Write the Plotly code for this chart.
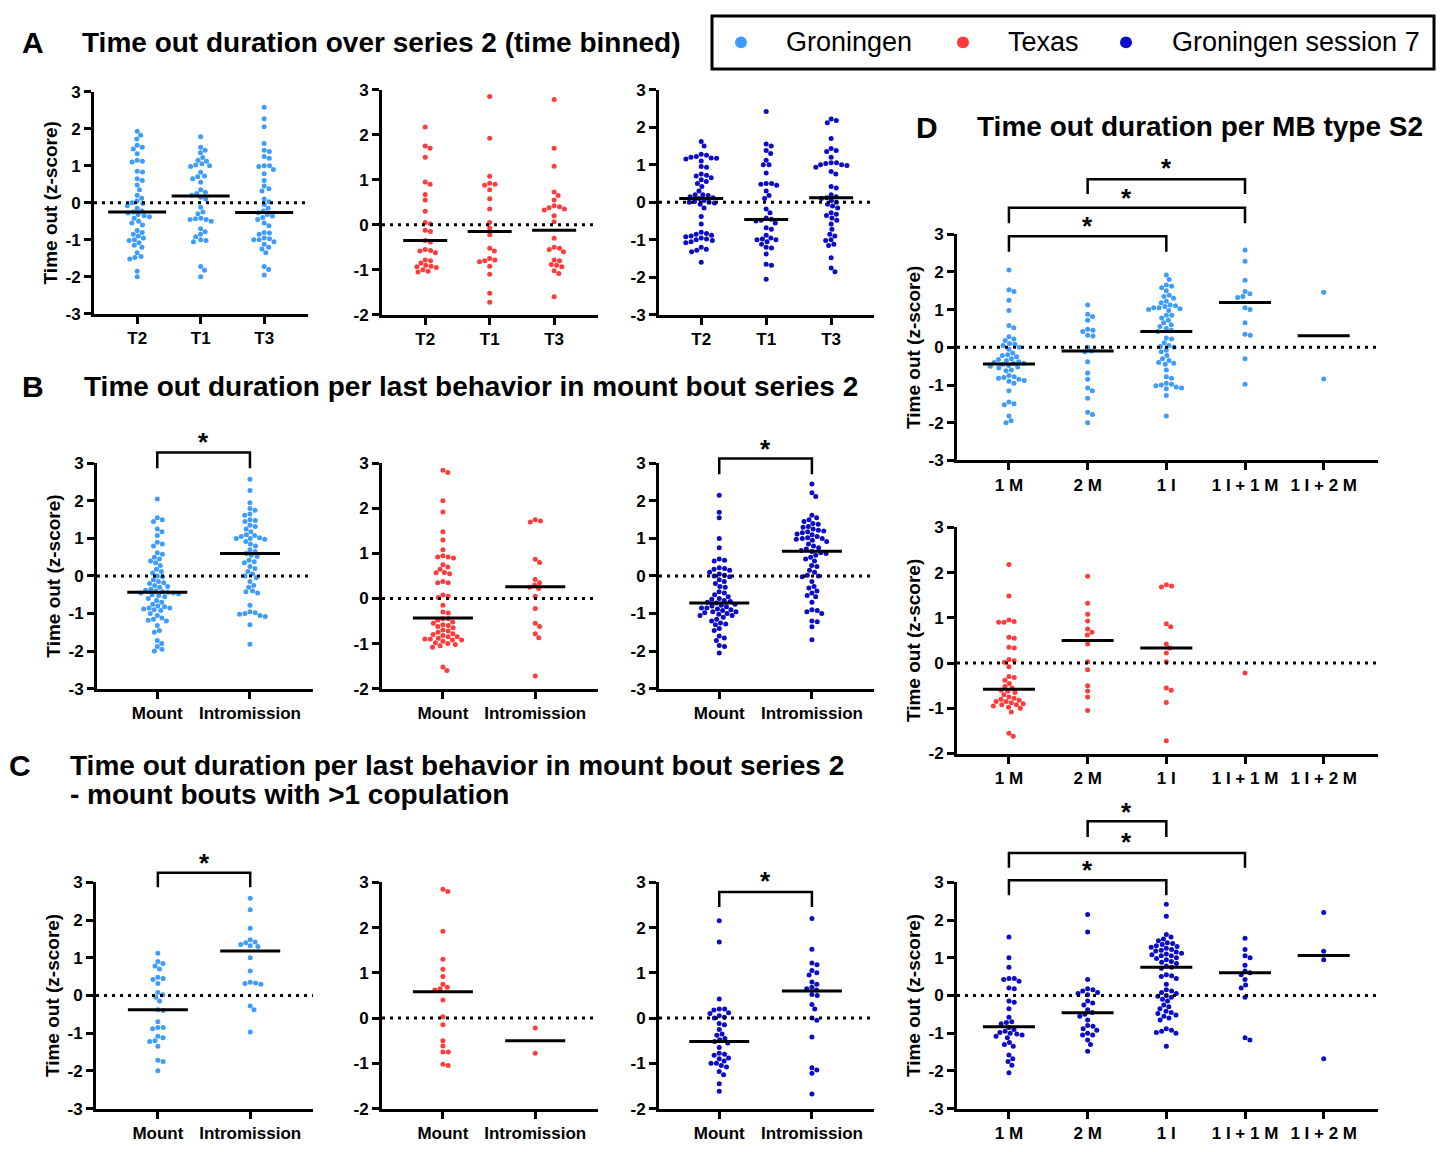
import numpy as np
import plotly.graph_objects as go

W, H = 1441, 1152
FONT = "Liberation Sans, Arial, sans-serif"
C_GRON = "#3f9cff"
C_TEX = "#ff3b3b"
C_S7 = "#0c0cc6"

# ---------------- category / tick labels ----------------
time_bins = ["T2", "T1", "T3"]
last_behavior = ["Mount", "Intromission"]
mb_types = ["1 M", "2 M", "1 I", "1 I + 1 M", "1 I + 2 M"]
yticks_6 = [-3, -2, -1, 0, 1, 2, 3]
yticks_5 = [-2, -1, 0, 1, 2, 3]
y_title = "Time out (z-score)"

# ---------------- A: time binned ----------------
A_gron_T2 = [1.93, 1.82, 1.72, 1.55, 1.5, 1.45, 1.32, 1.15, 1.12, 1.1, 0.85, 0.83, 0.65, 0.6, 0.48, 0.35,
             0.2, 0.12, 0.05, 0.0, -0.02, -0.08, -0.15, -0.22, -0.25, -0.28, -0.32, -0.35, -0.38, -0.42,
             -0.5, -0.55, -0.6, -0.75, -0.8, -0.85, -0.9, -0.95, -1.0, -1.02, -1.08, -1.15, -1.2, -1.35,
             -1.45, -1.48, -1.52, -1.85, -2.0]
A_gron_T1 = [1.78, 1.5, 1.42, 1.35, 1.22, 1.15, 1.12, 1.05, 1.02, 1.0, 0.98, 0.82, 0.72, 0.7, 0.65, 0.55,
             0.35, 0.28, 0.25, 0.2, 0.15, 0.1, -0.12, -0.25, -0.3, -0.42, -0.43, -0.45, -0.45, -0.5, -0.7,
             -0.78, -0.85, -0.92, -1.0, -1.02, -1.05, -1.72, -1.82, -2.0]
A_gron_T3 = [2.58, 2.27, 2.05, 1.6, 1.42, 1.38, 1.25, 1.2, 1.0, 1.0, 0.98, 0.9, 0.78, 0.6, 0.45, 0.38, 0.32,
             0.1, 0.03, -0.05, -0.15, -0.22, -0.27, -0.32, -0.36, -0.4, -0.45, -0.55, -0.62, -0.8, -0.82,
             -0.85, -0.95, -0.97, -1.0, -1.0, -1.05, -1.12, -1.2, -1.25, -1.35, -1.72, -1.8, -1.95]
A_gron_median = [-0.25, 0.18, -0.26]

A_tex_T2 = [2.17, 1.75, 1.7, 1.5, 0.95, 0.9, 0.67, 0.55, 0.3, 0.05, 0.02, -0.12, -0.15, -0.35, -0.38, -0.55,
            -0.57, -0.58, -0.62, -0.78, -0.8, -0.85, -0.9, -0.92, -0.93, -0.95, -1.0, -1.03, -1.05]
A_tex_T1 = [2.85, 1.92, 1.08, 0.92, 0.9, 0.88, 0.78, 0.58, 0.35, 0.05, -0.07, -0.22, -0.52, -0.58, -0.75,
            -0.78, -0.8, -0.82, -0.92, -1.1, -1.52, -1.72]
A_tex_T3 = [2.78, 1.7, 1.3, 0.73, 0.65, 0.55, 0.42, 0.4, 0.38, 0.35, 0.33, 0.2, 0.07, -0.3, -0.5, -0.52,
            -0.55, -0.6, -0.78, -0.8, -0.88, -0.9, -0.93, -1.02, -1.08, -1.6]
A_tex_median = [-0.35, -0.15, -0.12]

A_s7_T2 = [1.62, 1.5, 1.28, 1.25, 1.22, 1.2, 1.18, 1.17, 1.15, 1.1, 0.93, 0.95, 0.75, 0.72, 0.7, 0.65, 0.6,
           0.55, 0.5, 0.42, 0.3, 0.2, 0.2, 0.18, 0.15, 0.12, 0.1, 0.05, 0.02, 0.0, 0.0, -0.02, -0.05, -0.15,
           -0.38, -0.58, -0.8, -0.83, -0.85, -0.88, -0.9, -0.92, -0.95, -0.98, -1.0, -1.02, -1.05, -1.08,
           -1.2, -1.25, -1.28, -1.32, -1.6]
A_s7_T1 = [2.42, 1.55, 1.5, 1.38, 1.3, 1.12, 1.0, 1.0, 0.78, 0.5, 0.48, 0.45, 0.5, 0.3, 0.18, 0.1, -0.18,
           -0.28, -0.42, -0.45, -0.48, -0.5, -0.55, -0.68, -0.72, -0.88, -0.95, -0.98, -1.0, -1.0, -1.05,
           -1.12, -1.2, -1.22, -1.38, -1.65, -1.68, -2.05]
A_s7_T3 = [2.22, 2.18, 2.12, 1.7, 1.43, 1.38, 1.35, 1.2, 1.05, 1.05, 1.03, 1.0, 1.0, 0.98, 0.93, 0.82, 0.75,
           0.42, 0.38, 0.2, 0.15, 0.12, 0.1, 0.05, 0.0, -0.05, -0.1, -0.15, -0.28, -0.32, -0.35, -0.42,
           -0.48, -0.58, -0.72, -0.85, -0.9, -1.0, -1.02, -1.12, -1.15, -1.48, -1.75, -1.85]
A_s7_median = [0.1, -0.46, 0.12]

# ---------------- B: last behavior ----------------
B_gron_mount = [2.05, 1.55, 1.5, 1.45, 1.25, 1.18, 1.08, 0.9, 0.85, 0.8, 0.62, 0.58, 0.5, 0.45, 0.4, 0.35,
                0.28, 0.18, 0.12, 0.08, 0.0, -0.02, -0.1, -0.15, -0.18, -0.2, -0.25, -0.28, -0.3, -0.35,
                -0.38, -0.4, -0.42, -0.43, -0.45, -0.45, -0.48, -0.5, -0.52, -0.55, -0.6, -0.65, -0.7,
                -0.75, -0.8, -0.82, -0.85, -0.85, -0.88, -0.9, -0.92, -1.0, -1.05, -1.12, -1.15, -1.18,
                -1.2, -1.32, -1.45, -1.5, -1.72, -1.8, -1.88, -1.95, -2.0]
B_gron_intro = [2.58, 2.28, 1.95, 1.8, 1.75, 1.65, 1.62, 1.5, 1.48, 1.45, 1.35, 1.32, 1.25, 1.18, 1.1, 1.08,
                1.05, 1.02, 1.0, 1.0, 0.98, 0.92, 0.85, 0.8, 0.7, 0.65, 0.6, 0.55, 0.52, 0.42, 0.38, 0.35,
                0.25, 0.2, 0.12, 0.05, 0.0, -0.05, -0.15, -0.25, -0.3, -0.4, -0.42, -0.45, -0.78, -0.95,
                -0.98, -1.0, -1.02, -1.05, -1.08, -1.3, -1.82]
B_gron_median = [-0.43, 0.6]

B_tex_mount = [2.85, 2.8, 2.17, 1.92, 1.48, 1.3, 1.08, 0.95, 0.92, 0.9, 0.92, 0.75, 0.7, 0.65, 0.58, 0.57,
               0.55, 0.38, 0.35, 0.35, 0.08, 0.05, 0.02, -0.15, -0.3, -0.32, -0.45, -0.45, -0.48, -0.52,
               -0.55, -0.58, -0.6, -0.62, -0.65, -0.7, -0.72, -0.75, -0.78, -0.8, -0.82, -0.85, -0.85,
               -0.88, -0.9, -0.9, -0.92, -0.92, -0.95, -0.98, -1.0, -1.02, -1.05, -1.08, -1.52, -1.6]
B_tex_intro = [1.75, 1.72, 1.7, 0.87, 0.8, 0.42, 0.35, 0.3, 0.25, 0.22, 0.05, -0.22, -0.55, -0.62, -0.78,
               -0.87, -1.72]
B_tex_median = [-0.43, 0.26]

B_s7_mount = [2.15, 1.7, 1.55, 1.0, 0.75, 0.45, 0.42, 0.4, 0.22, 0.2, 0.18, 0.15, 0.1, 0.05, 0.02, 0.0,
              -0.02, -0.1, -0.15, -0.2, -0.28, -0.3, -0.42, -0.45, -0.5, -0.55, -0.6, -0.62, -0.65, -0.68,
              -0.7, -0.72, -0.75, -0.78, -0.8, -0.82, -0.85, -0.85, -0.88, -0.9, -0.92, -0.95, -0.95, -0.98,
              -1.0, -1.02, -1.05, -1.05, -1.1, -1.15, -1.2, -1.25, -1.28, -1.3, -1.4, -1.45, -1.6, -1.65,
              -1.72, -1.85, -1.88, -2.05]
B_s7_intro = [2.45, 2.22, 2.12, 1.62, 1.55, 1.5, 1.45, 1.4, 1.38, 1.32, 1.3, 1.25, 1.22, 1.2, 1.18, 1.15,
              1.12, 1.1, 1.05, 1.02, 1.0, 1.0, 0.98, 0.95, 0.92, 0.85, 0.8, 0.75, 0.72, 0.68, 0.65, 0.62,
              0.6, 0.55, 0.5, 0.45, 0.4, 0.28, 0.25, 0.15, 0.1, 0.02, 0.0, -0.02, -0.15, -0.28, -0.32, -0.4,
              -0.45, -0.52, -0.55, -0.7, -0.9, -0.92, -0.95, -1.0, -1.2, -1.22, -1.35, -1.7]
B_s7_median = [-0.72, 0.66]

# ---------------- C: mount bouts with >1 copulation ----------------
C_gron_mount = [1.12, 0.9, 0.85, 0.78, 0.7, 0.48, 0.45, 0.42, 0.32, 0.08, 0.02, -0.05, -0.15, -0.38, -0.4,
                -0.7, -0.85, -0.85, -0.88, -1.08, -1.12, -1.2, -1.22, -1.35, -1.72, -1.75, -2.0]
C_gron_intro = [2.58, 2.27, 1.78, 1.48, 1.42, 1.4, 1.35, 1.32, 1.3, 1.0, 0.65, 0.35, 0.33, 0.32, 0.3,
                -0.28, -0.38, -0.97]
C_gron_median = [-0.38, 1.18]

C_tex_mount = [2.85, 2.8, 1.92, 1.3, 1.08, 0.92, 0.75, 0.68, 0.65, 0.62, 0.4, 0.03, -0.15, -0.5, -0.62,
               -0.75, -0.75, -1.02, -1.05]
C_tex_intro = [-0.22, -0.78]
C_tex_median = [0.58, -0.5]

C_s7_mount = [2.15, 1.68, 0.42, 0.2, 0.18, 0.2, 0.12, 0.1, 0.05, 0.02, 0.0, -0.12, -0.15, -0.25, -0.35,
              -0.38, -0.45, -0.48, -0.52, -0.55, -0.65, -0.78, -0.8, -0.82, -0.88, -0.9, -0.95, -1.0, -1.0,
              -1.05, -1.08, -1.18, -1.25, -1.45, -1.62]
C_s7_intro = [2.2, 1.52, 1.22, 1.18, 1.05, 1.0, 0.95, 0.8, 0.75, 0.68, 0.65, 0.62, 0.52, 0.5, 0.3, 0.2,
              0.0, -0.05, -0.42, -1.1, -1.15, -1.22, -1.68]
C_s7_median = [-0.52, 0.6]

# ---------------- D: per MB type ----------------
D_gron_1M = [2.05, 1.53, 1.48, 1.25, 0.98, 0.58, 0.52, 0.28, 0.22, 0.18, 0.1, 0.08, 0.05, 0.0, -0.05, -0.15,
             -0.2, -0.22, -0.25, -0.3, -0.32, -0.35, -0.38, -0.4, -0.42, -0.43, -0.45, -0.48, -0.5, -0.52,
             -0.55, -0.6, -0.62, -0.75, -0.78, -0.8, -0.82, -0.85, -0.88, -0.9, -0.95, -1.15, -1.45, -1.5,
             -1.52, -1.82, -1.95, -2.0]
D_gron_2M = [1.12, 0.88, 0.82, 0.72, 0.48, 0.45, 0.42, 0.32, 0.3, 0.0, -0.1, -0.12, -0.38, -0.68, -0.85,
             -1.08, -1.15, -1.35, -1.72, -1.78, -2.0]
D_gron_1I = [1.92, 1.8, 1.65, 1.62, 1.58, 1.5, 1.38, 1.35, 1.3, 1.22, 1.18, 1.12, 1.1, 1.08, 1.05, 1.05,
             1.02, 1.0, 0.98, 0.85, 0.85, 0.78, 0.72, 0.65, 0.6, 0.55, 0.5, 0.45, 0.42, 0.25, 0.22, 0.12,
             0.05, 0.02, 0.0, -0.08, -0.12, -0.22, -0.3, -0.35, -0.4, -0.42, -0.45, -0.6, -0.78, -0.82,
             -0.95, -0.98, -1.0, -1.02, -1.05, -1.08, -1.1, -1.28, -1.82]
D_gron_1I1M = [2.58, 2.28, 1.78, 1.48, 1.42, 1.35, 1.32, 1.05, 1.0, 0.65, 0.35, 0.32, -0.3, -0.98]
D_gron_1I2M = [1.46, -0.84]
D_gron_median = [-0.44, -0.1, 0.42, 1.19, 0.31]

D_tex_1M = [2.18, 1.48, 0.95, 0.92, 0.9, 0.9, 0.57, 0.55, 0.35, 0.33, 0.08, 0.05, 0.02, -0.08, -0.3, -0.32,
            -0.38, -0.45, -0.52, -0.55, -0.6, -0.62, -0.65, -0.7, -0.75, -0.78, -0.8, -0.82, -0.85, -0.85,
            -0.88, -0.9, -0.92, -0.92, -0.95, -0.98, -1.0, -1.08, -1.55, -1.62]
D_tex_2M = [1.92, 1.32, 1.08, 0.93, 0.75, 0.68, 0.62, 0.42, 0.03, -0.15, -0.5, -0.62, -0.75, -1.05]
D_tex_1I = [1.73, 1.7, 1.68, 0.87, 0.8, 0.42, 0.33, 0.22, 0.03, -0.55, -0.6, -0.87, -1.72]
D_tex_1I1M = [-0.22]
D_tex_1I2M = []
D_tex_median = [-0.58, 0.5, 0.33, None, None]

D_s7_1M = [1.55, 1.0, 0.75, 0.45, 0.45, 0.42, 0.38, 0.2, 0.18, -0.15, -0.18, -0.35, -0.58, -0.7, -0.72,
           -0.75, -0.85, -0.9, -0.95, -0.98, -1.0, -1.02, -1.05, -1.08, -1.12, -1.25, -1.3, -1.35, -1.58,
           -1.68, -1.75, -1.85, -2.05]
D_s7_2M = [2.15, 1.68, 0.42, 0.18, 0.15, 0.12, 0.08, 0.05, 0.02, -0.15, -0.2, -0.25, -0.38, -0.45, -0.5,
           -0.55, -0.65, -0.8, -0.82, -0.88, -0.92, -1.0, -1.05, -1.05, -1.18, -1.3, -1.48]
D_s7_1I = [2.42, 2.1, 1.62, 1.55, 1.5, 1.45, 1.4, 1.38, 1.35, 1.32, 1.3, 1.28, 1.25, 1.22, 1.2, 1.18, 1.15,
           1.12, 1.1, 1.08, 1.05, 1.05, 1.0, 0.98, 0.95, 0.9, 0.88, 0.85, 0.78, 0.75, 0.72, 0.55, 0.52, 0.5,
           0.45, 0.3, 0.15, 0.12, 0.08, 0.05, 0.0, -0.02, -0.05, -0.1, -0.15, -0.25, -0.3, -0.35, -0.42,
           -0.45, -0.48, -0.52, -0.55, -0.6, -0.65, -0.88, -0.92, -0.95, -0.98, -1.0, -1.35]
D_s7_1I1M = [1.52, 1.22, 1.05, 1.0, 0.8, 0.65, 0.6, 0.55, 0.42, 0.28, 0.2, -0.05, -1.12, -1.18]
D_s7_1I2M = [2.2, 1.17, 0.95, -1.68]
D_s7_median = [-0.83, -0.46, 0.75, 0.6, 1.06]

# ---------------- panel layout (pixel boxes: left, right, top, bottom) ----------------
panels = [
    dict(cats=time_bins, groups=[A_gron_T2, A_gron_T1, A_gron_T3], med=A_gron_median, color=C_GRON,
         box=(94, 308, 84, 310), xr=(-0.68, 2.69), yr=(-3, 3), ytitle=True, hw=29, br=[]),
    dict(cats=time_bins, groups=[A_tex_T2, A_tex_T1, A_tex_T3], med=A_tex_median, color=C_TEX,
         box=(382, 598, 82, 311), xr=(-0.67, 2.68), yr=(-2, 3), ytitle=False, hw=22, br=[]),
    dict(cats=time_bins, groups=[A_s7_T2, A_s7_T1, A_s7_T3], med=A_s7_median, color=C_S7,
         box=(659, 874, 82, 311), xr=(-0.65, 2.66), yr=(-3, 3), ytitle=False, hw=22, br=[]),
    dict(cats=last_behavior, groups=[B_gron_mount, B_gron_intro], med=B_gron_median, color=C_GRON,
         box=(97, 313, 462, 691), xr=(-0.65, 1.68), yr=(-3, 3), ytitle=True, hw=30,
         br=[(0, 1, 1.048, 0.978, 0.5, 1.118)]),
    dict(cats=last_behavior, groups=[B_tex_mount, B_tex_intro], med=B_tex_median, color=C_TEX,
         box=(382, 598, 462, 691), xr=(-0.66, 1.68), yr=(-2, 3), ytitle=False, hw=30, br=[]),
    dict(cats=last_behavior, groups=[B_s7_mount, B_s7_intro], med=B_s7_median, color=C_S7,
         box=(659, 874, 462, 691), xr=(-0.65, 1.67), yr=(-3, 3), ytitle=False, hw=30,
         br=[(0, 1, 1.022, 0.952, 0.5, 1.087)]),
    dict(cats=last_behavior, groups=[C_gron_mount, C_gron_intro], med=C_gron_median, color=C_GRON,
         box=(96, 313, 888, 1118), xr=(-0.67, 1.68), yr=(-3, 3), ytitle=True, hw=30,
         br=[(0, 1, 1.043, 0.978, 0.5, 1.109)]),
    dict(cats=last_behavior, groups=[C_tex_mount, C_tex_intro], med=C_tex_median, color=C_TEX,
         box=(382, 598, 888, 1118), xr=(-0.66, 1.68), yr=(-2, 3), ytitle=False, hw=30, br=[]),
    dict(cats=last_behavior, groups=[C_s7_mount, C_s7_intro], med=C_s7_median, color=C_S7,
         box=(659, 874, 888, 1118), xr=(-0.65, 1.67), yr=(-2, 3), ytitle=False, hw=30,
         br=[(0, 1, 0.957, 0.891, 0.5, 1.026)]),
    dict(cats=mb_types, groups=[D_gron_1M, D_gron_2M, D_gron_1I, D_gron_1I1M, D_gron_1I2M],
         med=D_gron_median, color=C_GRON, box=(957, 1378, 229, 459), xr=(-0.66, 4.69), yr=(-3, 3),
         ytitle=True, hw=26,
         br=[(0, 2, 0.991, 0.922, 1, 1.057), (0, 3, 1.117, 1.048, 1.5, 1.183),
             (1, 3, 1.243, 1.178, 2, 1.313)]),
    dict(cats=mb_types, groups=[D_tex_1M, D_tex_2M, D_tex_1I, D_tex_1I1M, D_tex_1I2M],
         med=D_tex_median, color=C_TEX, box=(957, 1378, 527, 757), xr=(-0.66, 4.69), yr=(-2, 3),
         ytitle=True, hw=26, br=[]),
    dict(cats=mb_types, groups=[D_s7_1M, D_s7_2M, D_s7_1I, D_s7_1I1M, D_s7_1I2M],
         med=D_s7_median, color=C_S7, box=(957, 1378, 888, 1118), xr=(-0.66, 4.69), yr=(-3, 3),
         ytitle=True, hw=26,
         br=[(0, 2, 1.009, 0.943, 1, 1.078), (0, 3, 1.130, 1.065, 1.5, 1.2),
             (1, 2, 1.270, 1.2, 1.5, 1.335)]),
]


def swarm(vals, ppu_y, d):
    """Beeswarm x-offsets (pixels) so that markers of diameter d do not overlap."""
    vals = np.asarray(vals, float)
    xs = np.zeros(len(vals))
    ys = vals * ppu_y
    placed = []
    for i in np.argsort(-vals, kind="stable"):
        ints = []
        for j in placed:
            dy = abs(ys[j] - ys[i])
            if dy < d:
                h = np.sqrt(d * d - dy * dy)
                ints.append((xs[j] - h, xs[j] + h))
        cands = [0.0] + [a for a, b in ints] + [b for a, b in ints]
        cands.sort(key=lambda c: (round(abs(c), 6), -c))
        for c in cands:
            if all(not (a + 1e-6 < c < b - 1e-6) for a, b in ints):
                xs[i] = c
                break
        placed.append(i)
    return xs


fig = go.Figure()
shapes, annotations = [], []
tickfont = dict(family=FONT, size=17, color="black", weight="bold")

for k, p in enumerate(panels, start=1):
    sfx = "" if k == 1 else str(k)
    l, r, t, b = p["box"]
    ppu_x = (r - l) / (p["xr"][1] - p["xr"][0])
    ppu_y = (b - t) / (p["yr"][1] - p["yr"][0])
    xs_all, ys_all = [], []
    for gi, vals in enumerate(p["groups"]):
        if len(vals) == 0:
            continue
        offs = swarm(vals, ppu_y, 5.4)
        xs_all += list(gi + offs / ppu_x)
        ys_all += list(vals)
    fig.add_trace(go.Scatter(x=xs_all, y=ys_all, mode="markers", xaxis="x" + sfx, yaxis="y" + sfx,
                             marker=dict(size=5, color=p["color"], line=dict(width=0)),
                             showlegend=False, hoverinfo="y"))
    ticks = yticks_6 if p["yr"][0] == -3 else yticks_5
    fig.layout["xaxis" + sfx] = dict(
        domain=[l / W, r / W], range=list(p["xr"]), anchor="y" + sfx,
        tickvals=list(range(len(p["cats"]))), ticktext=p["cats"], tickfont=tickfont,
        showline=True, linewidth=3, linecolor="black", ticks="outside", ticklen=7, tickwidth=3,
        tickcolor="black", showgrid=False, zeroline=False, fixedrange=True)
    ya = dict(
        domain=[1 - b / H, 1 - t / H], range=list(p["yr"]), anchor="x" + sfx,
        tickvals=ticks, ticktext=[str(v) for v in ticks], tickfont=tickfont,
        showline=True, linewidth=3, linecolor="black", ticks="outside", ticklen=7, tickwidth=3,
        tickcolor="black", showgrid=False, zeroline=False, fixedrange=True)
    if p["ytitle"]:
        ya["title"] = dict(text=y_title, font=dict(family=FONT, size=19, color="black", weight="bold"),
                           standoff=3)
    fig.layout["yaxis" + sfx] = ya

    # dotted zero line
    shapes.append(dict(type="line", xref="x" + sfx + " domain", x0=0, x1=1, yref="y" + sfx, y0=0, y1=0,
                       line=dict(color="black", width=3, dash="3px,5px"), layer="above"))
    # median lines
    hw = p["hw"] / ppu_x
    for gi, m in enumerate(p["med"]):
        if m is None:
            continue
        shapes.append(dict(type="line", xref="x" + sfx, yref="y" + sfx, x0=gi - hw, x1=gi + hw, y0=m, y1=m,
                           line=dict(color="black", width=3), layer="above"))
    # significance brackets
    for (i0, i1, yt, yb, sx, sy) in p["br"]:
        shapes.append(dict(type="path", xref="x" + sfx, yref="y" + sfx + " domain",
                           path=f"M {i0},{yb} L {i0},{yt} L {i1},{yt} L {i1},{yb}",
                           line=dict(color="black", width=2.5), layer="above"))
        annotations.append(dict(text="*", xref="x" + sfx, yref="y" + sfx + " domain", x=sx, y=sy,
                                showarrow=False, xanchor="center", yanchor="middle", yshift=-5,
                                font=dict(family=FONT, size=26, color="black", weight="bold")))


def P(x, y):
    return x / W, 1 - y / H


# section letters and titles
for letter, lx, ly in [("A", 33, 34), ("B", 33, 384), ("C", 20, 769), ("D", 927, 120)]:
    x, y = P(lx, ly)
    annotations.append(dict(text=letter, xref="paper", yref="paper", x=x, y=y, showarrow=False,
                            xanchor="center", yanchor="middle",
                            font=dict(family=FONT, size=30, color="black", weight="bold")))

titles = [
    ("Time out duration over series 2 (time binned)", 80, 34),
    ("Time out duration per last behavior in mount bout series 2", 82, 384),
    ("Time out duration per last behavior in mount bout series 2", 68, 769),
    ("- mount bouts with >1 copulation", 68, 799),
    ("Time out duration per MB type S2", 975, 119),
]
for txt, tx, ty in titles:
    x, y = P(tx, ty)
    annotations.append(dict(text=txt, xref="paper", yref="paper", x=x, y=y, showarrow=False,
                            xanchor="left", yanchor="middle", align="left",
                            font=dict(family=FONT, size=28, color="black", weight="bold")))

# legend box
x0, y0 = P(712, 7)
x1, y1 = P(1434, 61)
shapes.append(dict(type="rect", xref="paper", yref="paper", x0=x0, x1=x1, y0=y1, y1=y0,
                   line=dict(color="black", width=3), fillcolor="white", layer="above"))
legend_items = [("Groningen", C_GRON, 741, 784), ("Texas", C_TEX, 963, 1006),
                ("Groningen session 7", C_S7, 1126, 1170)]
for name, col, cx, tx in legend_items:
    a0, b0 = P(cx - 6, 28)
    a1, b1 = P(cx + 6, 40)
    shapes.append(dict(type="circle", xref="paper", yref="paper", x0=a0, x1=a1, y0=b1, y1=b0,
                       fillcolor=col, line=dict(width=0), layer="above"))
    x, y = P(tx, 34)
    annotations.append(dict(text=name, xref="paper", yref="paper", x=x, y=y, showarrow=False,
                            xanchor="left", yanchor="middle",
                            font=dict(family=FONT, size=27, color="black")))

fig.update_layout(width=W, height=H, margin=dict(l=0, r=0, t=0, b=0), paper_bgcolor="white",
                  plot_bgcolor="white", showlegend=False, shapes=shapes, annotations=annotations,
                  font=dict(family=FONT, color="black"))
fig.write_html("out.html")
